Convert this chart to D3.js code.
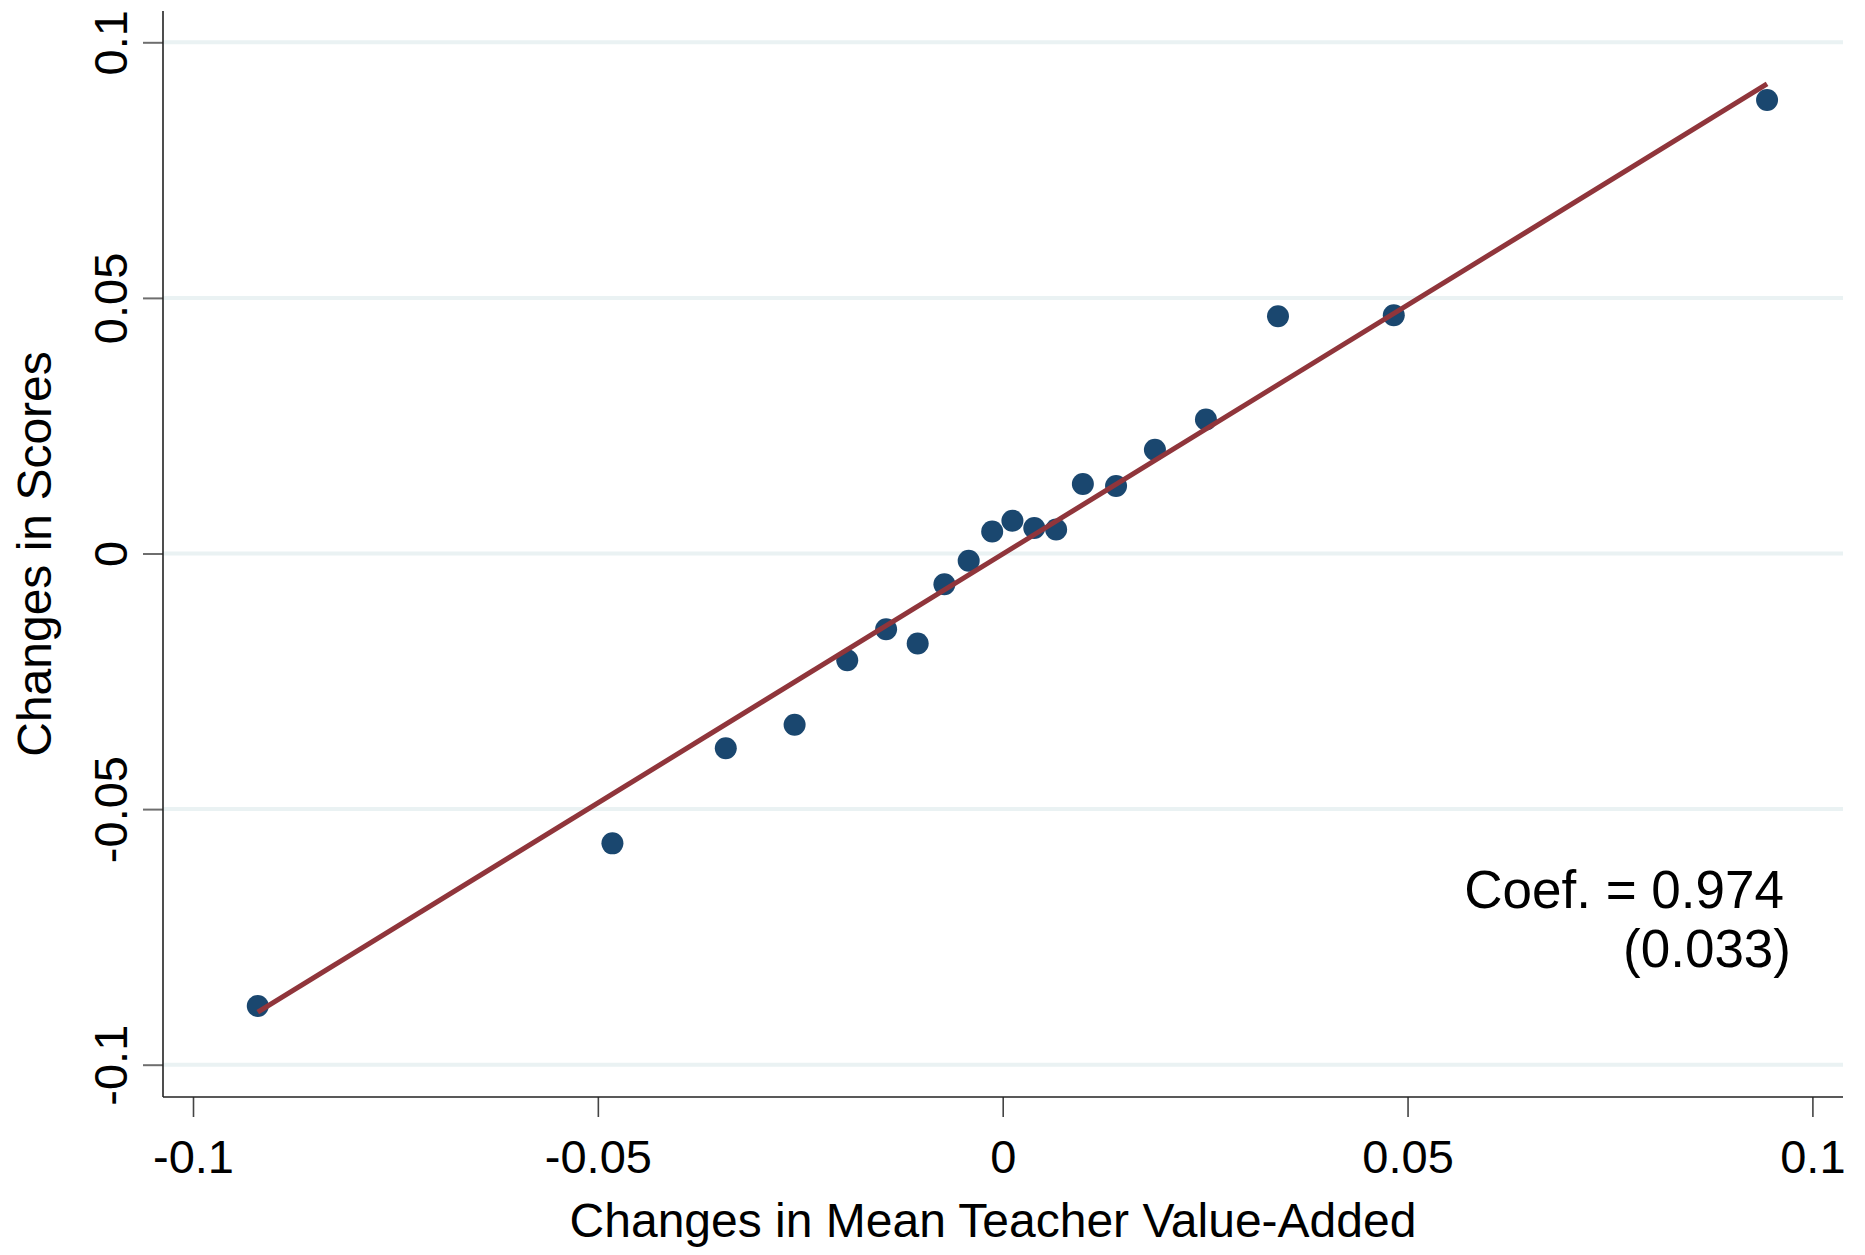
<!DOCTYPE html>
<html>
<head>
<meta charset="utf-8">
<script src="https://cdn.jsdelivr.net/npm/d3@7"></script>
<style>
  html, body { margin: 0; padding: 0; background: #ffffff; }
  svg { display: block; font-family: "Liberation Sans", Arial, sans-serif; }
</style>
</head>
<body>
<svg id="chart" width="1865" height="1255"></svg>
<script>
// Binned scatter: change in mean teacher value-added vs. change in scores
const vaChange = [-0.0920, -0.0482, -0.0342, -0.0257, -0.0192, -0.0144, -0.0105, -0.0072,
                  -0.0042, -0.0013, 0.0012, 0.0039, 0.0066, 0.0099, 0.0140, 0.0188,
                  0.0251, 0.0340, 0.0483, 0.0944];
const scoreChange = [-0.0885, -0.0567, -0.0381, -0.0335, -0.0209, -0.0148, -0.0176, -0.0060,
                     -0.0014, 0.0043, 0.0064, 0.0050, 0.0047, 0.0136, 0.0132, 0.0203,
                     0.0262, 0.0464, 0.0466, 0.0887];
const fitSlope = 0.974;
const fitSE = 0.033;
const fitIntercept = -0.0001;

const xTicks = [-0.1, -0.05, 0, 0.05, 0.1];
const xTickLabels = ["-0.1", "-0.05", "0", "0.05", "0.1"];
const yTicks = [-0.1, -0.05, 0, 0.05, 0.1];
const yTickLabels = ["-0.1", "-0.05", "0", "0.05", "0.1"];

const xTitle = "Changes in Mean Teacher Value-Added";
const yTitle = "Changes in Scores";

const svg = d3.select("#chart");
const W = 1865, H = 1255;
svg.append("rect").attr("width", W).attr("height", H).attr("fill", "#ffffff");

// plot region
const plotLeft = 163, plotRight = 1843, plotTop = 11, plotBottom = 1097;

const x = d3.scaleLinear().domain([-0.1, 0.1]).range([193, 1812.4]);
const y = d3.scaleLinear().domain([-0.1, 0.1]).range([1064.7, 42.3]);

// horizontal gridlines
svg.append("g")
  .selectAll("line")
  .data(yTicks)
  .join("line")
  .attr("x1", plotLeft)
  .attr("x2", plotRight)
  .attr("y1", d => y(d))
  .attr("y2", d => y(d))
  .attr("stroke", "#eaf2f3")
  .attr("stroke-width", 4);

// y axis
const yAxis = d3.axisLeft(y)
  .tickValues(yTicks)
  .tickFormat((d, i) => yTickLabels[i])
  .tickSize(20)
  .tickPadding(0);
const gy = svg.append("g").attr("transform", `translate(${plotLeft},0)`).call(yAxis);
gy.select(".domain").remove();
gy.selectAll(".tick line").attr("stroke", "#6e6e6e").attr("stroke-width", 2);
gy.selectAll(".tick text")
  .attr("x", 0).attr("dy", null).attr("y", 0)
  .attr("transform", `translate(${127 - plotLeft},0) rotate(-90)`)
  .attr("text-anchor", "middle")
  .attr("fill", "#000")
  .style("font-size", "47px");
svg.append("line")
  .attr("x1", plotLeft).attr("x2", plotLeft)
  .attr("y1", plotTop).attr("y2", plotBottom)
  .attr("stroke", "#222").attr("stroke-width", 1.6);

// x axis
const xAxis = d3.axisBottom(x)
  .tickValues(xTicks)
  .tickFormat((d, i) => xTickLabels[i])
  .tickSize(20)
  .tickPadding(0);
const gx = svg.append("g").attr("transform", `translate(0,${plotBottom})`).call(xAxis);
gx.select(".domain").remove();
gx.selectAll(".tick line").attr("stroke", "#444").attr("stroke-width", 1.6);
gx.selectAll(".tick text")
  .attr("y", 1173 - plotBottom).attr("dy", null)
  .attr("fill", "#000")
  .style("font-size", "47px");
svg.append("line")
  .attr("x1", plotLeft).attr("x2", plotRight)
  .attr("y1", plotBottom).attr("y2", plotBottom)
  .attr("stroke", "#222").attr("stroke-width", 1.6);

// axis titles
svg.append("text")
  .attr("x", 993).attr("y", 1237)
  .attr("text-anchor", "middle")
  .style("font-size", "48px")
  .attr("fill", "#000")
  .text(xTitle);
svg.append("text")
  .attr("transform", `translate(51,${(plotTop + plotBottom) / 2}) rotate(-90)`)
  .attr("text-anchor", "middle")
  .style("font-size", "48px")
  .attr("fill", "#000")
  .text(yTitle);

// binned points
const pts = vaChange.map((v, i) => ({ x: v, y: scoreChange[i] }));
svg.append("g")
  .selectAll("circle")
  .data(pts)
  .join("circle")
  .attr("cx", d => x(d.x))
  .attr("cy", d => y(d.y))
  .attr("r", 11)
  .attr("fill", "#1a476f");

// linear fit across the range of the bins
const xExt = d3.extent(vaChange);
const fitLine = d3.line().x(d => x(d)).y(d => y(fitIntercept + fitSlope * d));
svg.append("path")
  .datum(xExt)
  .attr("d", fitLine)
  .attr("fill", "none")
  .attr("stroke", "#90353b")
  .attr("stroke-width", 5);

// coefficient annotation
svg.append("text")
  .attr("x", 1784).attr("y", 908)
  .attr("text-anchor", "end")
  .style("font-size", "53px")
  .attr("fill", "#000")
  .text(`Coef. = ${fitSlope.toFixed(3)}`);
svg.append("text")
  .attr("x", 1791).attr("y", 967)
  .attr("text-anchor", "end")
  .style("font-size", "53px")
  .attr("fill", "#000")
  .text(`(${fitSE.toFixed(3)})`);
</script>
</body>
</html>
